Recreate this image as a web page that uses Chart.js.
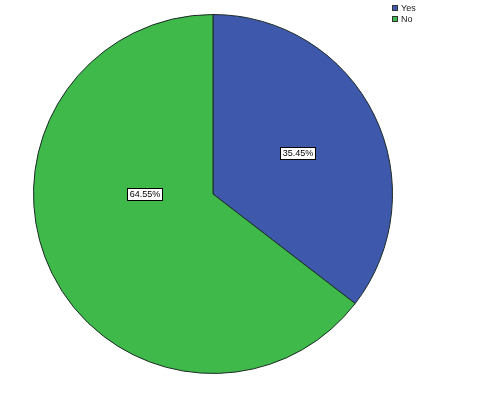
<!DOCTYPE html>
<html>
<head>
<meta charset="utf-8">
<script src="https://cdn.jsdelivr.net/npm/chart.js@4"></script>
<style>
    html, body { margin: 0; padding: 0; background: #fff; }
    #wrap { width: 480px; height: 395px; }
</style>
</head>
<body>
<div id="wrap"><canvas id="pieChart" width="480" height="395"></canvas></div>
<script>
var categories = ['Yes', 'No'];
var percents = [35.45, 64.55];
var sliceColors = ['#3e58ab', '#3eb94a'];
// where each label box sits, as a fraction of the radius from the centre
var labelOffsets = [[0.47, -0.23], [-0.38, 0]];

var labelsPlugin = {
    id: 'pctLabels',
    afterDatasetsDraw: function(chart) {
        var ctx = chart.ctx;
        var meta = chart.getDatasetMeta(0);
        ctx.save();
        ctx.font = '9px "Liberation Sans", Arial, sans-serif';
        ctx.textAlign = 'center';
        ctx.textBaseline = 'middle';
        for (var i = 0; i < meta.data.length; i++) {
            var arc = meta.data[i];
            var r = arc.outerRadius;
            var x = arc.x + labelOffsets[i][0] * r;
            var y = arc.y + labelOffsets[i][1] * r;
            var txt = percents[i].toFixed(2) + '%';
            var w = Math.round(ctx.measureText(txt).width) + 4;
            var h = 12;
            var bx = Math.round(x - w / 2) + 0.5;
            var by = Math.round(y - h / 2) + 0.5;
            ctx.fillStyle = '#ffffff';
            ctx.fillRect(bx, by, w, h);
            ctx.strokeStyle = '#000000';
            ctx.lineWidth = 1;
            ctx.strokeRect(bx, by, w, h);
            ctx.fillStyle = '#000000';
            ctx.fillText(txt, bx + w / 2, by + h / 2 + 0.5);
        }
        ctx.restore();
    }
};

var legendPlugin = {
    id: 'boxLegend',
    afterDraw: function(chart) {
        var ctx = chart.ctx;
        ctx.save();
        ctx.font = '9px "Liberation Sans", Arial, sans-serif';
        ctx.textAlign = 'left';
        ctx.textBaseline = 'middle';
        for (var i = 0; i < categories.length; i++) {
            var y = 5 + i * 11;
            ctx.fillStyle = sliceColors[i];
            ctx.fillRect(392, y, 6, 6);
            ctx.strokeStyle = '#333333';
            ctx.lineWidth = 1;
            ctx.strokeRect(392.5, y + 0.5, 5, 5);
            ctx.fillStyle = '#222222';
            ctx.fillText(categories[i], 401, y + 3.5);
        }
        ctx.restore();
    }
};

new Chart(document.getElementById('pieChart'), {
    type: 'pie',
    data: {
        labels: categories,
        datasets: [{
            data: percents,
            backgroundColor: sliceColors,
            borderColor: '#1c2b26',
            borderWidth: 1
        }]
    },
    options: {
        responsive: false,
        animation: false,
        layout: { padding: { left: 33, right: 87, top: 14, bottom: 21 } },
        plugins: {
            legend: { display: false },
            tooltip: { enabled: false }
        }
    },
    plugins: [labelsPlugin, legendPlugin]
});
</script>
</body>
</html>
